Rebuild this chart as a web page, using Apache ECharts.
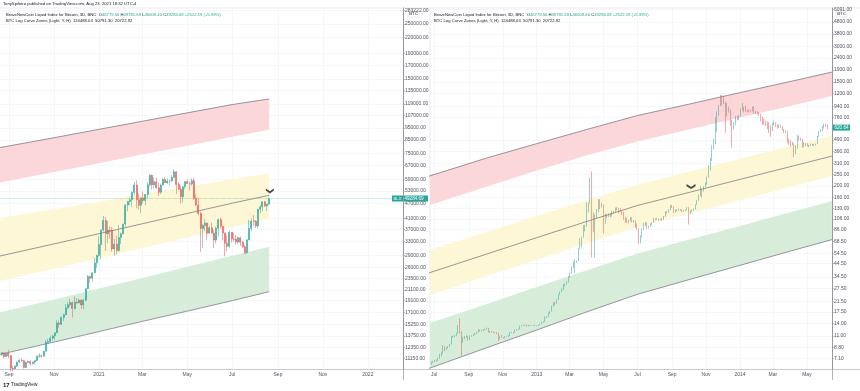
<!DOCTYPE html>
<html><head><meta charset="utf-8">
<script src="https://cdn.jsdelivr.net/npm/echarts@6/dist/echarts.min.js"></script>
<style>html,body{margin:0;padding:0;background:#fff}#c{width:860px;height:391px}</style>
</head><body><div id="c"></div>
<script>
// ---------- DATA ----------
const titleText = 'TonySpilotro published on TradingView.com, Aug 23, 2021 18:32 UTC-4';
const symbolText = 'BraveNewCoin Liquid Index for Bitcoin, 3D, BNC';
const lastOHLC = ['46779.56', '49781.69', '46609.40', '49284.69'];
const lastChange = '+2522.19 (+5.39%)';
const zonesText = 'BTC Log Curve Zones (Light, Y, H)';
const zonesValues = ['124488.03', '50791.30', '20722.92'];

// 3D bars, left pane (Aug 2020 - Aug 2021): [open, high, low, close]
const leftStart = '2020-08-22';
const leftOHLC = [
[11580,11800,11380,11750],[11750,11760,11120,11330],[11330,11710,11300,11680],[11680,12090,11200,11420],
[11420,11480,9880,10170],[10170,10400,9880,10130],[10130,10470,10080,10390],[10390,10820,10270,10780],
[10780,11100,10650,10950],[10950,11180,10770,10920],[10920,10990,10140,10240],[10240,10800,10200,10730],
[10730,10940,10660,10840],[10840,10950,10390,10620],[10620,10800,10520,10790],[10790,10950,10530,10920],
[10920,11400,10850,11380],[11380,11720,11230,11430],[11430,11550,11240,11360],[11360,11930,11340,11920],
[11920,13220,11900,12930],[12930,13350,12890,13030],[13030,13780,12950,13450],[13450,13870,13160,13740],
[13740,14190,13220,14140],[14140,15960,14100,15480],[15480,15830,14810,15300],[15300,16480,15250,16310],
[16310,16880,15790,16720],[16720,18470,16690,17810],[17810,18800,17690,18370],[18370,19420,18030,18730],
[18730,18930,16330,17720],[17720,19860,17580,18790],[18790,19550,18580,18650],[18650,19440,18600,19190],
[19190,19260,17670,18320],[18320,19410,17590,19140],[19140,21560,19000,21310],[21310,24200,21220,23860],
[23860,24100,22500,23480],[23480,24750,22750,24710],[24710,28420,24600,27080],[27080,29300,25880,28990],
[28990,34800,28700,32130],[32130,36940,28000,36770],[36770,41950,36300,40150],[40150,41380,30260,35550],
[35550,40100,32550,36770],[36770,37960,33900,36630],[36630,37850,30070,30830],[30830,33840,28950,32290],
[32290,34900,29240,30430],[30430,38600,30000,34310],[34310,35900,32300,35510],[35510,38950,35400,38900],
[38900,46600,38000,46450],[46450,48200,43800,48000],[48000,49700,46300,48700],[48700,52600,45600,52200],
[52200,57500,50900,55900],[55900,58350,45000,48800],[48800,51800,44500,46300],[46300,49800,43000,49600],
[49600,52600,47100,48400],[48400,51400,46300,51200],[51200,57300,49300,56000],[56000,61700,55100,61200],
[61200,61600,53600,56000],[56000,60000,54200,57600],[57600,59900,54000,54500],[54500,57200,50400,52300],
[52300,56600,51300,55900],[55900,59800,55800,58900],[58900,60000,57000,57100],[57100,59500,56500,58000],
[58000,58700,55500,58100],[58100,61300,57900,60000],[60000,64800,59800,63200],[63200,63500,51500,56200],
[56200,57500,53500,53800],[53800,55400,47000,50100],[50100,55400,47500,55000],[55000,57900,53900,57700],
[57700,58900,56500,56600],[56600,57900,53000,56400],[56400,59500,55400,58200],[58200,59600,48600,49500],
[49500,51400,46000,46400],[46400,49800,42100,42900],[42900,43500,30000,37300],[37300,39000,31100,38400],
[38400,40800,36400,39300],[39300,39400,33400,35700],[35700,38200,35600,37600],[37600,39400,35500,35800],
[35800,36800,31100,33500],[33500,38000,32500,37400],[37400,41000,34600,40500],[40500,41200,37400,38100],
[38100,38200,33400,35800],[35800,35900,28800,32500],[32500,35300,30200,31600],[31600,36600,31200,36000],
[36000,36100,32700,33800],[33800,35900,33000,33750],[33750,35100,32100,32900],[32900,34600,32300,34200],
[34200,34600,31600,32800],[32800,33200,31100,31500],[31500,32000,29300,29800],[29800,33700,29500,33600],
[33600,40500,33400,37300],[37300,40900,36400,40000],[40000,42300,38300,39900],[39900,40400,37500,38200],
[38200,44800,37300,44600],[44600,46400,43000,45600],[45600,48100,43800,47800],[47800,48100,45600,46000],
[46000,47100,43900,46780],[46779.56,49781.69,46609.40,49284.69]
];

// 3D bars, right pane (Jun 2012 - Jun 2014): [open, high, low, close]
const rightStart = '2012-06-26';
const rightOHLC = [
[6.4,6.7,6.3,6.6],[6.6,6.75,6.5,6.65],[6.65,6.9,6.6,6.85],[6.85,6.95,6.7,6.8],[6.8,7.2,6.75,7.1],
[7.1,7.75,7.05,7.65],[7.65,8.0,7.4,7.9],[7.9,9.2,7.8,8.9],[8.9,9.0,8.2,8.45],[8.45,8.8,8.4,8.75],
[8.75,9.0,8.6,8.9],[8.9,9.4,8.85,9.35],[9.35,10.9,9.3,10.8],[10.8,11.0,10.6,10.9],[10.9,11.2,10.7,11.1],
[11.1,11.7,10.9,11.6],[11.6,13.5,11.5,13.3],[13.3,15.4,11.5,11.8],[11.8,12.0,7.5,9.9],[9.9,10.8,9.6,10.6],
[10.6,10.95,10.3,10.8],[10.8,11.1,10.6,10.85],[10.85,10.95,10.0,10.2],[10.2,11.1,10.1,10.95],[10.95,11.1,10.8,11.0],
[11.0,11.3,10.9,11.2],[11.2,11.6,11.1,11.5],[11.5,11.9,11.4,11.75],[11.75,12.5,11.7,12.3],[12.3,12.4,12.0,12.2],
[12.2,12.35,12.0,12.15],[12.15,12.5,12.1,12.4],[12.4,12.6,12.3,12.5],[12.5,12.9,12.4,12.8],[12.8,12.85,11.7,11.85],
[11.85,12.1,11.7,12.0],[12.0,12.1,11.7,11.8],[11.8,11.9,11.6,11.75],[11.75,11.85,11.6,11.7],[11.7,11.8,11.4,11.6],
[11.6,11.65,9.9,10.4],[10.4,10.9,10.3,10.75],[10.75,11.2,10.6,10.6],[10.6,10.7,10.4,10.5],[10.5,10.9,10.5,10.85],
[10.85,11.0,10.8,10.9],[10.9,11.1,10.8,10.95],[10.95,11.8,10.9,11.75],[11.75,11.9,11.6,11.75],[11.75,11.8,11.5,11.7],
[11.7,12.5,11.7,12.4],[12.4,12.55,12.2,12.35],[12.35,12.65,12.3,12.6],[12.6,13.4,12.5,13.3],[13.3,13.5,13.2,13.45],
[13.45,13.6,13.3,13.5],[13.5,13.7,13.4,13.6],[13.6,13.7,13.1,13.3],[13.3,13.5,13.2,13.4],[13.4,13.6,13.3,13.45],
[13.45,13.5,13.3,13.4],[13.4,13.45,13.3,13.35],[13.35,13.6,13.3,13.5],[13.5,13.5,13.2,13.4],[13.4,13.6,13.3,13.5],
[13.5,14.0,13.5,13.9],[13.9,14.5,13.8,14.3],[14.3,14.6,14.2,14.5],[14.5,16.0,14.4,15.7],[15.7,16.0,15.5,15.9],
[15.9,17.3,15.8,17.0],[17.0,17.8,16.8,17.6],[17.6,19.7,17.6,19.5],[19.5,21.0,19.3,20.6],[20.6,21.3,19.8,20.4],
[20.4,22.2,20.4,22.1],[22.1,24.8,22.0,24.6],[24.6,25.9,24.3,25.8],[25.8,27.6,25.7,27.0],[27.0,30.0,26.6,29.7],
[29.7,30.2,28.6,29.9],[29.9,31.7,29.5,31.0],[31.0,34.9,30.8,34.4],[34.4,37.5,33.9,36.6],[36.6,42.0,36.4,41.5],
[41.5,46.5,41.0,46.0],[46.0,48.4,37.0,47.0],[47.0,47.5,45.0,47.0],[47.0,60.0,46.8,59.0],[59.0,73.0,59.0,69.5],
[69.5,75.0,61.0,73.6],[73.6,94.0,73.5,89.9],[89.9,94.5,83.0,93.0],[93.0,146,91.0,135],[135,145,120,142],
[142,235,142,230],[230,266,50,117],[117,120,82,90],[90,115,50,110],[110,128,107,127],
[127,155,121,154],[154,155,128,136],[136,145,132,139],[139,140,80,97],[97,118,96,113],
[113,115,108,112],[112,118,110,116],[116,118,109,112],[112,124,111,123],[123,124,118,122],
[122,132,121,131],[131,133,125,131],[131,131.5,118,128],[128,130,121,122],[122,123,114,121],
[121,122,104,108],[108,110,98,106],[106,108,98,100],[100,104,97,102],[102,110,101,108],
[108,109,99,101],[101,104,98,102],[102,103,89,94],[94,97,86,88],[88,89,65,68],
[68,77,66,74],[74,88,74,86],[86,98,86,96],[96,99,92,97],[97,99,87,90],
[90,93,88,91],[91,97,91,95],[95,99,94,98],[98,108,98,106],[106,107,103,105],
[105,108,104,106],[106,107,102,104],[104,106,103,105],[105,107,102,104],[104,112,103,111],
[111,123,110,121],[121,123,117,120],[120,128,119,127],[127,138,125,136],[136,139,131,134],
[134,135,118,121],[121,127,120,125],[125,128,122,127],[127,130,124,127.5],[127.5,128,124,126],
[126,127,121,123],[123,126,122,124],[124,127,123,126],[126,133,125,130],[130,133,95,117],
[117,125,116,123],[123,127,121,126],[126,129,124,128],[128,141,127,140],[140,153,139,151],
[151,170,150,166],[166,200,165,185],[185,190,160,183],[183,200,180,198],[198,215,195,207],
[207,240,205,236],[236,300,235,297],[297,345,270,330],[330,440,325,430],[430,500,410,495],
[495,760,450,580],[580,850,570,830],[830,960,780,950],[950,1170,940,1130],[1130,1165,950,1050],
[1050,1150,980,1020],[1020,1030,560,780],[780,1000,770,900],[900,930,830,880],[880,890,640,700],
[700,720,420,640],[640,690,600,660],[660,780,650,760],[760,780,710,740],[740,790,720,770],
[770,900,770,880],[880,1000,860,900],[900,930,830,880],[880,950,840,860],[860,880,830,850],
[850,880,840,870],[870,880,830,860],[860,930,850,920],[920,940,810,830],[830,860,810,835],
[835,850,800,825],[825,835,780,800],[800,810,700,760],[760,770,660,720],[720,740,650,700],
[700,710,640,680],[680,700,600,650],[650,690,560,640],[640,650,520,600],[600,680,580,670],
[670,710,650,680],[680,690,630,650],[650,660,610,640],[640,660,620,645],[645,655,620,630],
[630,640,590,600],[600,605,560,570],[570,590,560,580],[580,585,460,490],[490,500,440,470],
[470,490,430,450],[450,470,440,455],[455,460,350,380],[380,440,370,420],[420,540,410,525],
[525,530,480,500],[500,510,480,495],[495,500,420,440],[440,470,425,441],[441,460,435,455],
[455,460,430,435],[435,445,425,440],[440,455,435,450],[450,455,435,440],[440,450,435,447],
[447,455,440,450],[450,530,450,520],[520,580,515,575],[575,600,570,590],[590,640,580,630],
[630,670,610,660],[660,665,630,650],[650,660,600,620.64]
];

// Log curve zones, left pane
const leftBandDates = ['2020-08-18','2020-11-01','2021-01-01','2021-03-01','2021-05-01','2021-07-01','2021-08-20'];
const leftUpper      = [79020, 86790, 93840, 101180, 109400, 118160, 124488];
const leftRedLow     = [57080, 63040, 68480, 74180, 80580, 87530, 93580];
const leftYellowHigh = [41050, 44670, 47900, 51260, 55010, 58980, 62460];
const leftMid        = [28810, 32330, 35540, 39000, 42920, 47230, 50791];
const leftYellowLow  = [22820, 25660, 28290, 31100, 34290, 37800, 40860];
const leftGreenHigh  = [17060, 19290, 21350, 23560, 26160, 28940, 31480];
const leftLower      = [11540, 12970, 14300, 15730, 17300, 19070, 20723];

// Log curve zones, right pane
const rightBandDates = ['2012-06-20','2012-10-01','2013-01-01','2013-04-01','2013-07-01','2013-10-01','2014-01-01','2014-04-01','2014-06-15'];
const rightUpper      = [241, 342, 455, 599, 785, 977, 1222, 1515, 1819];
const rightRedLow     = [137, 196, 270, 364, 475, 598, 755, 944, 1146];
const rightYellowHigh = [57.5, 81.8, 112, 152, 205, 264, 340, 434, 533];
const rightMid        = [37.0, 53.2, 73.6, 100.8, 137.4, 176.6, 227.7, 291, 357.5];
const rightYellowLow  = [24.0, 34.7, 48.0, 66.1, 90.5, 117.2, 152.2, 196.6, 242.7];
const rightGreenHigh  = [13.9, 20.2, 28.3, 39.2, 54.1, 70.6, 92.4, 120.2, 149.6];
const rightLower      = [5.81, 8.66, 12.3, 17.5, 24.6, 32.6, 43.1, 56.7, 70.9];

// price scale tick labels
const leftTicks = [283222, 250000, 220000, 190000, 170000, 150000, 135000, 119000, 107000, 95000, 85000, 75000, 67000, 59000, 53000, 47000, 41000, 37000, 33000, 29000, 26000, 23500, 21100, 19100, 17100, 15250, 13750, 12350, 11150];
const rightTicks = [6091, 4800, 3800, 3000, 2400, 1900, 1500, 1200, 940, 760, 490, 390, 310, 250, 200, 160, 130, 106, 86, 68.5, 54.5, 44.5, 34.5, 27.5, 21.5, 17.5, 14, 11, 8.8, 7.1];
// time scale tick labels
const leftMonths = ['2020-09-01','2020-11-01','2021-01-01','2021-03-01','2021-05-01','2021-07-01','2021-09-01','2021-11-01','2022-01-01'];
const rightMonths = ['2012-07-01','2012-09-01','2012-11-01','2013-01-01','2013-03-01','2013-05-01','2013-07-01','2013-09-01','2013-11-01','2014-01-01','2014-03-01','2014-05-01'];
// drawn chevron annotations [date, price]
const leftMarker = ['2021-08-21', 52900];
const rightMarker = ['2013-10-05', 198];

// ---------- CHART ----------
const DAY = 86400000;
const T = s => new Date(s + 'T00:00:00Z').getTime();
const L = Math.log;
const MON = ['Jan','Feb','Mar','Apr','May','Jun','Jul','Aug','Sep','Oct','Nov','Dec'];
const FONT = 'Liberation Sans';
const UP = '#26a69a', DOWN = '#ef5350';
const TXT = '#131722';

function bars(start, rows) {
  const t0 = T(start);
  return rows.map((r, i) => [t0 + i * 3 * DAY, L(r[0]), L(r[3]), L(r[2]), L(r[1])]);
}
// filled zone between two curves, drawn through the axes' scales
function band(ax, dates, lo, hi, color) {
  return {type:'custom', xAxisIndex:ax, yAxisIndex:ax, z:1, silent:true, clip:true,
    data:[[T(dates[0]), L(lo[0])]],
    renderItem:(params, api) => {
      const top = dates.map((d,i) => api.coord([T(d), L(hi[i])]));
      const bot = dates.map((d,i) => api.coord([T(d), L(lo[i])])).reverse();
      return {type:'polygon', shape:{points: top.concat(bot)}, style:{fill:color}};
    }};
}
function curve(ax, dates, vals) {
  return {type:'line', xAxisIndex:ax, yAxisIndex:ax, symbol:'none', silent:true, z:2,
    lineStyle:{color:'#6a6d78', width:0.7}, data: dates.map((d,i)=>[T(d), L(vals[i])])};
}
function candles(ax, data, w) {
  return {type:'candlestick', xAxisIndex:ax, yAxisIndex:ax, data:data, encode:{x:0, y:[1,2,3,4]},
    barWidth:w, z:5, clip:true,
    itemStyle:{color:UP, color0:DOWN, borderColor:UP, borderColor0:DOWN, borderWidth:0.5}};
}
const monthFmt = v => { const d = new Date(v); const m = d.getUTCMonth(); return m === 0 ? String(d.getUTCFullYear()) : MON[m]; };
function xAxis(grid, months, min, max) {
  const cv = months.map(T);
  return {type:'value', gridIndex:grid, min:min, max:max,
    axisLine:{show:false},
    axisTick:{show:false, customValues:cv},
    axisLabel:{customValues:cv, formatter:monthFmt, fontSize:5, color:'#50535e', fontFamily:FONT, margin:3},
    splitLine:{show:true, lineStyle:{color:'#eef1f7', width:0.6}}};
}
function yAxis(grid, ticks, min, max) {
  const cv = ticks.map(L);
  return {type:'value', gridIndex:grid, position:'right', min:min, max:max,
    axisLine:{show:true, lineStyle:{color:'#9598a1', width:1}},
    axisTick:{show:true, length:2, inside:false, customValues:cv, lineStyle:{color:'#9598a1', width:0.6}},
    axisLabel:{customValues:cv, formatter:v => Math.exp(v).toFixed(2), fontSize:5, color:'#50535e', fontFamily:FONT, margin:2},
    splitLine:{show:true, lineStyle:{color:'#eef1f7', width:0.6}}};
}

const leftBars = bars(leftStart, leftOHLC);
const rightBars = bars(rightStart, rightOHLC);
const lastLeft = leftOHLC[leftOHLC.length-1][3];
const lastRight = rightOHLC[rightOHLC.length-1][3];
const chevron = 'path://M0,0 L5,3.5 L10,0 L10,2.6 L5,6 L0,2.6 Z';

const series = [
  band(0, leftBandDates, leftRedLow, leftUpper, '#fcd7d9'),
  band(0, leftBandDates, leftYellowLow, leftYellowHigh, '#fdf7d6'),
  band(0, leftBandDates, leftLower, leftGreenHigh, '#d8edd9'),
  curve(0, leftBandDates, leftUpper), curve(0, leftBandDates, leftMid), curve(0, leftBandDates, leftLower),
  band(1, rightBandDates, rightRedLow, rightUpper, '#fcd7d9'),
  band(1, rightBandDates, rightYellowLow, rightYellowHigh, '#fdf7d6'),
  band(1, rightBandDates, rightLower, rightGreenHigh, '#d8edd9'),
  curve(1, rightBandDates, rightUpper), curve(1, rightBandDates, rightMid), curve(1, rightBandDates, rightLower),
  Object.assign(candles(0, leftBars, 1.5), {markLine:{silent:true, symbol:'none', label:{show:false},
      lineStyle:{color:UP, type:'dotted', width:0.6, opacity:0.7}, data:[{yAxis:L(lastLeft)}]}}),
  candles(1, rightBars, 1.1),
  {type:'scatter', xAxisIndex:0, yAxisIndex:0, z:8, symbol:chevron, symbolSize:[8,5],
   itemStyle:{color:TXT}, data:[[T(leftMarker[0]), L(leftMarker[1])]]},
  {type:'scatter', xAxisIndex:1, yAxisIndex:1, z:8, symbol:chevron, symbolSize:[9,5],
   itemStyle:{color:TXT}, data:[[T(rightMarker[0]), L(rightMarker[1])]]}
];

const chart = echarts.init(document.getElementById('c'), null, {renderer:'canvas'});
chart.setOption({
  animation:false,
  backgroundColor:'#ffffff',
  grid:[{left:0, top:8, width:403, height:361}, {left:430, top:8, width:402, height:361}],
  xAxis:[
    xAxis(0, leftMonths, T('2020-09-01') - 12.28*DAY, T('2020-09-01') + 534.7*DAY),
    xAxis(1, rightMonths, T('2012-07-01') - 7.66*DAY, T('2012-07-01') + 714.1*DAY)
  ],
  yAxis:[
    yAxis(0, leftTicks, 9.22011, 12.57792),
    yAxis(1, rightTicks, 1.75488, 8.74733)
  ],
  series: series
});

const HF = 4.2;
const headerRich = {
  t:{fontSize:HF, lineHeight:5, fill:TXT, fontFamily:FONT, verticalAlign:'middle'},
  v:{fontSize:HF, lineHeight:5, fill:UP, fontFamily:FONT, verticalAlign:'middle'}
};
const headerText = '{t|' + symbolText + '  O}{v|' + lastOHLC[0] + '}{t| H}{v|' + lastOHLC[1] + '}{t| L}{v|' + lastOHLC[2] + '}{t| C}{v|' + lastOHLC[3] + ' ' + lastChange + '}';
const zonesLine = zonesText + '  ' + zonesValues.join('  ');
const yl = chart.convertToPixel({yAxisIndex:0}, L(lastLeft));
const yr = chart.convertToPixel({yAxisIndex:1}, L(lastRight));
const gline = (id, x1, y1, x2, y2, c) => ({id:id, type:'line', silent:true, shape:{x1:x1, y1:y1, x2:x2, y2:y2}, style:{stroke:c, lineWidth:0.7}});
const btcTag = (id, x) => ({id:id, type:'group', x:x, y:11, children:[
  {type:'rect', shape:{x:0, y:0, width:11, height:6}, style:{fill:'#fff', stroke:'#d1d4dc', lineWidth:0.5}},
  {type:'text', x:5.5, y:3, style:{text:'BTC', fontSize:4.2, fill:TXT, align:'center', verticalAlign:'middle', fontFamily:FONT}}]});
const midText = (id, x, y, text, size) => ({id:id, type:'text', x:x, y:y,
  style:{text:text, fontSize:size, fill:TXT, fontFamily:FONT, verticalAlign:'middle', align:'left'}});

chart.setOption({graphic:[
  gline('g1', 0, 8, 860, 8, '#e0e3eb'),
  gline('g2', 0, 369.5, 860, 369.5, '#b2b5be'),
  gline('g3', 403.5, 369, 403.5, 380, '#9598a1'),
  gline('g4', 832.5, 369, 832.5, 380, '#9598a1'),
  gline('g5', 430, 8, 430, 369, '#e0e3eb'),
  midText('t0', 3, 4.2, titleText, 4.2),
  {id:'h1', type:'text', x:6, y:14.7, style:{text:headerText, rich:headerRich, fontSize:HF, fontFamily:FONT, verticalAlign:'middle', align:'left'}},
  {id:'h2', type:'text', x:434, y:14.7, style:{text:headerText, rich:headerRich, fontSize:HF, fontFamily:FONT, verticalAlign:'middle', align:'left'}},
  midText('z1', 6, 20.7, zonesLine, HF),
  midText('z2', 434, 20.7, zonesLine, HF),
  btcTag('b1', 408), btcTag('b2', 836),
  {id:'tv', type:'text', x:3, y:385, style:{text:'{b|17} TradingView', rich:{b:{fontSize:6, fontWeight:'bold', fill:TXT, fontFamily:FONT}}, fontSize:4.8, fill:TXT, fontFamily:FONT, verticalAlign:'middle'}},
  {id:'bl', type:'group', x:392, y:yl - 3, children:[
    {type:'rect', shape:{x:0, y:0, width:36, height:6}, style:{fill:UP}},
    {type:'text', x:1.5, y:3, style:{text:'BLX', fontSize:4.3, fill:'#fff', verticalAlign:'middle', fontFamily:FONT}},
    {type:'text', x:12.5, y:3, style:{text:lastOHLC[3], fontSize:4.6, fill:'#fff', verticalAlign:'middle', fontFamily:FONT}}]},
  {id:'br', type:'group', x:833, y:yr - 3, children:[
    {type:'rect', shape:{x:0, y:0, width:17, height:6}, style:{fill:UP}},
    {type:'text', x:1.5, y:3, style:{text:lastRight.toFixed(2), fontSize:4.6, fill:'#fff', verticalAlign:'middle', fontFamily:FONT}}]}
]});
</script></body></html>
